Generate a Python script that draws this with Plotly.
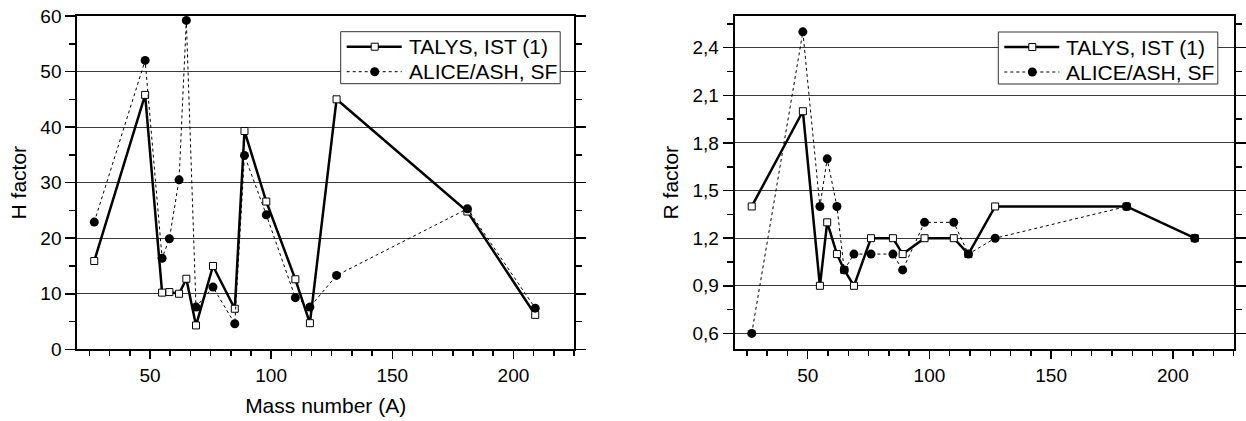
import plotly.graph_objects as go

# ---- data ----
mass_number = [27, 48, 55, 58, 62, 65, 69, 76, 85, 89, 98, 110, 116, 127, 181, 209]
h_talys = [15.9, 45.8, 10.2, 10.3, 10.0, 12.7, 4.3, 15.0, 7.3, 39.3, 26.6, 12.6, 4.7, 45.0, 24.8, 6.2]
h_alice = [22.9, 52.0, 16.4, 19.9, 30.5, 59.2, 7.6, 11.2, 4.6, 34.9, 24.2, 9.3, 7.6, 13.3, 25.3, 7.4]
r_talys = [1.4, 2.0, 0.9, 1.3, 1.1, 1.0, 0.9, 1.2, 1.2, 1.1, 1.2, 1.2, 1.1, 1.4, 1.4, 1.2]
r_alice = [0.6, 2.5, 1.4, 1.7, 1.4, 1.0, 1.1, 1.1, 1.1, 1.0, 1.3, 1.3, 1.1, 1.2, 1.4, 1.2]
series_names = ["TALYS, IST (1)", "ALICE/ASH, SF"]
x_title = "Mass number (A)"
y_titles = ["H factor", "R factor"]

W, H = 1246, 421
FONT = "Liberation Sans, Arial, sans-serif"


def fx(px):
    return px / W


def fy(py):
    return 1 - py / H


fig = go.Figure()

talys_line = dict(color="black", width=2.5)
talys_marker = dict(symbol="square", size=7, color="white", line=dict(color="black", width=1))
alice_line = dict(color="black", width=1, dash="dot")
alice_marker = dict(symbol="circle", size=9, color="black")

for xa, ya, t_vals, a_vals in (("x", "y", h_talys, h_alice), ("x2", "y2", r_talys, r_alice)):
    fig.add_trace(go.Scatter(x=mass_number, y=t_vals, name=series_names[0], mode="lines+markers",
                             line=talys_line, marker=talys_marker, xaxis=xa, yaxis=ya,
                             showlegend=False, cliponaxis=False))
    fig.add_trace(go.Scatter(x=mass_number, y=a_vals, name=series_names[1], mode="lines+markers",
                             line=alice_line, marker=alice_marker, xaxis=xa, yaxis=ya,
                             showlegend=False, cliponaxis=False))

xaxis_common = dict(range=[20, 225], tick0=0, dtick=50, showgrid=False, zeroline=False,
                    automargin=False, ticklabeloverflow="allow",
                    showline=True, linecolor="black", linewidth=2, mirror=True,
                    ticks="outside", ticklen=8, tickwidth=1.5, tickcolor="black",
                    minor=dict(dtick=50 / 6, ticks="outside", ticklen=5, tickwidth=1.5,
                               tickcolor="black", showgrid=False),
                    tickfont=dict(size=19, color="black", family=FONT))
yaxis_common = dict(showgrid=True, gridcolor="#3a3a3a", gridwidth=1, zeroline=False,
                    automargin=False, ticklabeloverflow="allow",
                    showline=True, linecolor="black", linewidth=2, mirror="ticks",
                    ticks="outside", ticklen=10, tickwidth=1.5, tickcolor="black",
                    tickfont=dict(size=19, color="black", family=FONT),
                    title_font=dict(size=21, color="black", family=FONT))

left_dom = [fx(77.3), fx(574)]
right_dom = [fx(734.7), fx(1233.7)]
ydom = [fy(349.3), fy(16)]

# ---- manual legends (box, sample lines, markers, labels) ----
shapes = []
annotations = []
for box_left, box_top in ((340.7, 31.7), (998.3, 32.0)):
    box_w, box_h = 219.5, 52.0
    shapes.append(dict(type="rect", xref="paper", yref="paper", layer="above",
                       x0=fx(box_left), x1=fx(box_left + box_w),
                       y0=fy(box_top + box_h), y1=fy(box_top),
                       line=dict(color="#333", width=1), fillcolor="white"))
    rows = [(box_top + 15.0, series_names[0], talys_line, "square"),
            (box_top + 40.0, series_names[1], alice_line, "circle")]
    for row_y, label, ln, sym in rows:
        shapes.append(dict(type="line", xref="paper", yref="paper", layer="above",
                           x0=fx(box_left + 6), x1=fx(box_left + 61),
                           y0=fy(row_y), y1=fy(row_y),
                           line=dict(color="black", width=ln["width"], dash=ln.get("dash", "solid"))))
        mx, my = fx(box_left + 34), fy(row_y)
        if sym == "square":
            shapes.append(dict(type="rect", xref="paper", yref="paper", layer="above",
                               xsizemode="pixel", ysizemode="pixel", xanchor=mx, yanchor=my,
                               x0=-3.5, x1=3.5, y0=-3.5, y1=3.5,
                               line=dict(color="black", width=1), fillcolor="white"))
        else:
            shapes.append(dict(type="circle", xref="paper", yref="paper", layer="above",
                               xsizemode="pixel", ysizemode="pixel", xanchor=mx, yanchor=my,
                               x0=-4.5, x1=4.5, y0=-4.5, y1=4.5,
                               line=dict(color="black", width=0), fillcolor="black"))
        annotations.append(dict(text=label, xref="paper", yref="paper", showarrow=False,
                                x=fx(box_left + 66), y=my, xanchor="left", yanchor="middle",
                                font=dict(size=21, color="black", family=FONT)))

fig.update_layout(
    template="none",
    width=W, height=H,
    margin=dict(l=0, r=0, t=0, b=0, pad=0),
    paper_bgcolor="white", plot_bgcolor="white",
    separators=", ",
    showlegend=False,
    hovermode=False,
    font=dict(family=FONT, color="black"),
    xaxis=dict(domain=left_dom, anchor="y",
               title=dict(text=x_title, font=dict(size=21, color="black", family=FONT), standoff=13),
               **xaxis_common),
    yaxis=dict(domain=ydom, anchor="x", range=[0, 60], tick0=0, dtick=10,
               minor=dict(dtick=5, ticks="outside", ticklen=6, tickwidth=1.5,
                          tickcolor="black", showgrid=False),
               title=dict(text=y_titles[0], standoff=8),
               **yaxis_common),
    xaxis2=dict(domain=right_dom, anchor="y2", **xaxis_common),
    yaxis2=dict(domain=ydom, anchor="x2", range=[0.5, 2.6], tick0=0, dtick=0.3,
                tickformat=".1f",
                minor=dict(dtick=0.15, ticks="outside", ticklen=6, tickwidth=1.5,
                           tickcolor="black", showgrid=False),
                title=dict(text=y_titles[1], standoff=8),
                **yaxis_common),
    shapes=shapes,
    annotations=annotations,
)

# remove the browser's default page margin so the figure sits at the window origin
fig.write_html("out.html",
               config={"displayModeBar": False, "staticPlot": True},
               post_script="document.body.style.margin='0';document.body.style.overflow='hidden';")
